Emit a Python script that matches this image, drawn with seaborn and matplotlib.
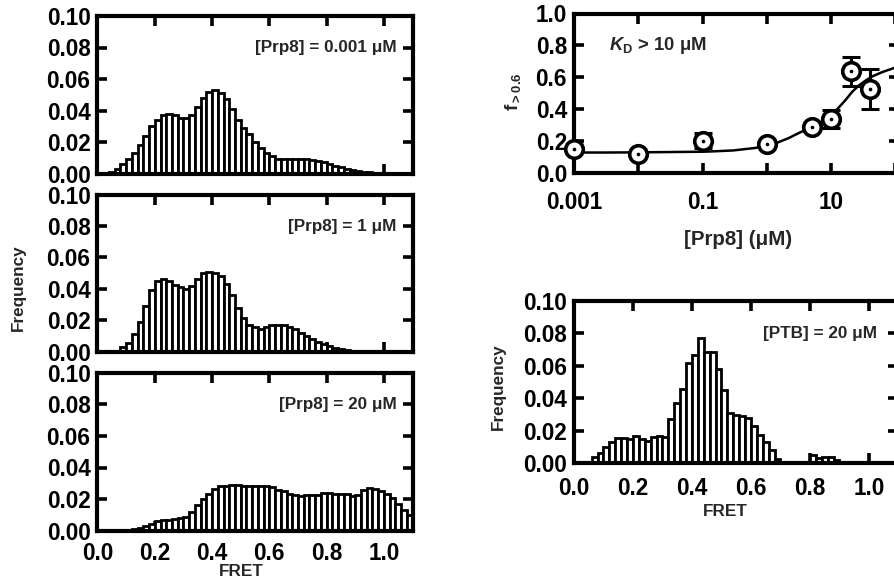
import numpy as np
import pandas as pd
import matplotlib
matplotlib.use("Agg")
import matplotlib.pyplot as plt
import seaborn as sns
from matplotlib.ticker import FixedLocator, FixedFormatter, NullLocator

# ---------------- data ----------------
bin_edges = [round(0.02 * i, 2) for i in range(56)]
bin_centers = [round(e + 0.01, 3) for e in bin_edges[:-1]]

freq_prp8_0001 = [0, 0, 0.001, 0.003, 0.006, 0.009, 0.013, 0.018, 0.024, 0.030,
                  0.034, 0.037, 0.0375, 0.037, 0.035, 0.035, 0.037, 0.042, 0.048, 0.052,
                  0.053, 0.051, 0.047, 0.041, 0.034, 0.029, 0.025, 0.020, 0.016, 0.013,
                  0.011, 0.0095, 0.009, 0.009, 0.0092, 0.0093, 0.009, 0.0085, 0.008, 0.007,
                  0.006, 0.005, 0.004, 0.003, 0.002, 0.0015, 0.001, 0.0007, 0.0005, 0.0003,
                  0.0002, 0.0001, 0, 0, 0]
freq_prp8_1 = [0, 0, 0, 0, 0.003, 0.0057, 0.011, 0.019, 0.029, 0.039,
               0.045, 0.0465, 0.045, 0.0426, 0.0415, 0.040, 0.042, 0.0465, 0.050, 0.051,
               0.0504, 0.048, 0.043, 0.036, 0.028, 0.0215, 0.017, 0.0155, 0.0143, 0.0157,
               0.0167, 0.017, 0.0167, 0.0157, 0.0143, 0.012, 0.010, 0.0078, 0.0063, 0.0048,
               0.0035, 0.0024, 0.0015, 0.001, 0.0006, 0.0003, 0, 0, 0, 0,
               0, 0, 0, 0, 0]
freq_prp8_20 = [0, 0, 0, 0, 0, 0.0005, 0.001, 0.002, 0.003, 0.004,
                0.006, 0.0065, 0.007, 0.0075, 0.008, 0.0085, 0.012, 0.016, 0.020, 0.023,
                0.0265, 0.028, 0.0285, 0.0287, 0.029, 0.0285, 0.028, 0.028, 0.028, 0.0285,
                0.0276, 0.026, 0.025, 0.023, 0.0224, 0.0217, 0.0224, 0.0228, 0.0228, 0.024,
                0.024, 0.0234, 0.023, 0.023, 0.022, 0.0228, 0.0255, 0.027, 0.0266, 0.025,
                0.023, 0.0207, 0.017, 0.0133, 0.010]
freq_ptb_20 = [0, 0, 0, 0.004, 0.0066, 0.010, 0.0133, 0.0154, 0.0155, 0.015,
               0.017, 0.015, 0.014, 0.016, 0.017, 0.016, 0.027, 0.037, 0.046, 0.062,
               0.067, 0.077, 0.0687, 0.0687, 0.058, 0.045, 0.031, 0.030, 0.029, 0.028,
               0.023, 0.0175, 0.013, 0.008, 0.0025, 0.001, 0.0003, 0.0003, 0, 0,
               0.005, 0.0035, 0.004, 0.004, 0.002, 0, 0, 0, 0, 0,
               0, 0, 0, 0, 0]

panel_labels = ["[Prp8] = 0.001 μM", "[Prp8] = 1 μM", "[Prp8] = 20 μM"]
ptb_label = "[PTB] = 20 μM"

conc_um = [0.001, 0.01, 0.1, 1, 5, 10, 20, 40]
f_high = [0.153, 0.121, 0.203, 0.182, 0.289, 0.339, 0.638, 0.529]
f_err = [0.02, 0.02, 0.047, 0.02, 0.02, 0.058, 0.089, 0.125]

fit_x = [0.001, 0.003, 0.01, 0.03, 0.1, 0.14, 0.3, 0.67, 1, 1.5, 2.2, 3.2, 5,
         7.3, 10, 13, 17, 21, 27, 35, 44, 62, 95, 115]
fit_y = [0.130, 0.130, 0.131, 0.133, 0.135, 0.137, 0.143, 0.159, 0.174, 0.194,
         0.221, 0.254, 0.289, 0.323, 0.362, 0.41, 0.462, 0.508, 0.55, 0.583,
         0.607, 0.633, 0.659, 0.667]

hist_yticks = [0.0, 0.02, 0.04, 0.06, 0.08, 0.10]
hist_ytick_labels = ["0.00", "0.02", "0.04", "0.06", "0.08", "0.10"]
fret_ticks = [0.0, 0.2, 0.4, 0.6, 0.8, 1.0]
fret_tick_labels = ["0.0", "0.2", "0.4", "0.6", "0.8", "1.0"]
conc_ticks = [0.001, 0.01, 0.1, 1, 10, 100]
conc_tick_labels = ["0.001", "", "0.1", "", "10", ""]
f_ticks = [0.0, 0.2, 0.4, 0.6, 0.8, 1.0]
f_tick_labels = ["0.0", "0.2", "0.4", "0.6", "0.8", "1.0"]

# ---------------- style ----------------
sns.set_style("ticks")
plt.rcParams["font.family"] = ["Liberation Sans", "DejaVu Sans"]
plt.rcParams["font.weight"] = "bold"
plt.rcParams["mathtext.fontset"] = "custom"
plt.rcParams["mathtext.rm"] = "Liberation Sans:bold"
plt.rcParams["mathtext.it"] = "Liberation Sans:italic:bold"
plt.rcParams["mathtext.bf"] = "Liberation Sans:bold"
plt.rcParams["axes.linewidth"] = 3.0

TICK_FS = 16.3
LAB_FS = 12.3
W, H = 895, 581

fig = plt.figure(figsize=(W / 100, H / 100), dpi=100)


def px_axes(x0, y0, x1, y1):
    return fig.add_axes([x0 / W, 1 - y1 / H, (x1 - x0) / W, (y1 - y0) / H])


def style_ax(ax, xpad):
    for s in ax.spines.values():
        s.set_linewidth(3.0)
        s.set_color("black")
    ax.tick_params(direction="in", length=7, width=2.6, top=True, right=True,
                   labelsize=TICK_FS, colors="black")
    ax.tick_params(axis="y", pad=5)
    ax.tick_params(axis="x", pad=xpad)
    for lab in ax.get_xticklabels() + ax.get_yticklabels():
        lab.set_fontweight("bold")


def hist_panel(ax, heights, label, show_x, xpad, label_x):
    df = pd.DataFrame({"fret": bin_centers, "freq": heights})
    sns.histplot(data=df, x="fret", weights="freq", bins=bin_edges,
                 color="white", edgecolor="black", linewidth=2.0, alpha=1,
                 ax=ax, zorder=2)
    ax.set_xlim(0, 1.1)
    ax.set_ylim(0, 0.10)
    ax.set_xlabel("")
    ax.set_ylabel("")
    ax.yaxis.set_major_locator(FixedLocator(hist_yticks))
    ax.yaxis.set_major_formatter(FixedFormatter(hist_ytick_labels))
    ax.xaxis.set_major_locator(FixedLocator(fret_ticks))
    ax.xaxis.set_major_formatter(FixedFormatter(fret_tick_labels))
    style_ax(ax, xpad)
    if not show_x:
        ax.tick_params(axis="x", labelbottom=False)
    ax.text(label_x, 0.08, label, transform=ax.get_yaxis_transform(),
            ha="right", va="center", fontsize=LAB_FS, fontweight="bold")


# left column
ax1 = px_axes(97.5, 16, 412.6, 173.5)
hist_panel(ax1, freq_prp8_0001, panel_labels[0], False, 9, 0.95)
ax2 = px_axes(97.5, 194.7, 412.6, 351.7)
hist_panel(ax2, freq_prp8_1, panel_labels[1], False, 9, 0.95)
ax3 = px_axes(97.5, 372.7, 412.6, 530.7)
hist_panel(ax3, freq_prp8_20, panel_labels[2], True, 8, 0.95)

# bottom right
ax5 = px_axes(574, 301, 898.5, 463.3)
hist_panel(ax5, freq_ptb_20, ptb_label, True, 10, 0.934)

# top right titration
ax4 = px_axes(574, 13.5, 899.4, 173.3)
ax4.set_xscale("log")
ax4.errorbar(conc_um, f_high, yerr=f_err, fmt="none", ecolor="black",
             elinewidth=2.2, capsize=6.5, capthick=2.2, zorder=2)
sns.lineplot(x=fit_x, y=fit_y, color="black", linewidth=1.8, ax=ax4, zorder=3,
             sort=True)
sns.scatterplot(x=conc_um, y=f_high, s=160, marker="o", facecolor="white",
                edgecolor="black", linewidth=2.6, ax=ax4, zorder=4, clip_on=False)
sns.scatterplot(x=conc_um, y=f_high, s=7, marker="o", color="black",
                linewidth=0, ax=ax4, zorder=5, clip_on=False)
ax4.set_xlim(0.001, 115)
ax4.set_ylim(0, 1.0)
ax4.set_xlabel("")
ax4.set_ylabel("")
ax4.xaxis.set_major_locator(FixedLocator(conc_ticks))
ax4.xaxis.set_major_formatter(FixedFormatter(conc_tick_labels))
ax4.xaxis.set_minor_locator(NullLocator())
ax4.yaxis.set_major_locator(FixedLocator(f_ticks))
ax4.yaxis.set_major_formatter(FixedFormatter(f_tick_labels))
style_ax(ax4, 13)
ax4.text(0.108, 0.80, r"$\mathit{K}_{\mathrm{D}}$ > 10 μM",
         transform=ax4.transAxes, ha="left", va="center",
         fontsize=13.3, fontweight="bold")

# figure-level axis labels
def ftext(x, y, s, rot=0, fs=LAB_FS):
    fig.text(x / W, 1 - y / H, s, ha="center", va="center", rotation=rot,
             fontsize=fs, fontweight="bold")

ftext(18, 288, "Frequency", rot=90)
ftext(241, 572, "FRET")
ftext(498, 387, "Frequency", rot=90)
ftext(725, 512, "FRET")
ftext(513, 92, r"$\mathrm{f}_{>0.6}$", rot=90, fs=13.5)
ftext(738, 240, "[Prp8] (μM)", fs=14.8)

fig.savefig("out.png", dpi=100)
